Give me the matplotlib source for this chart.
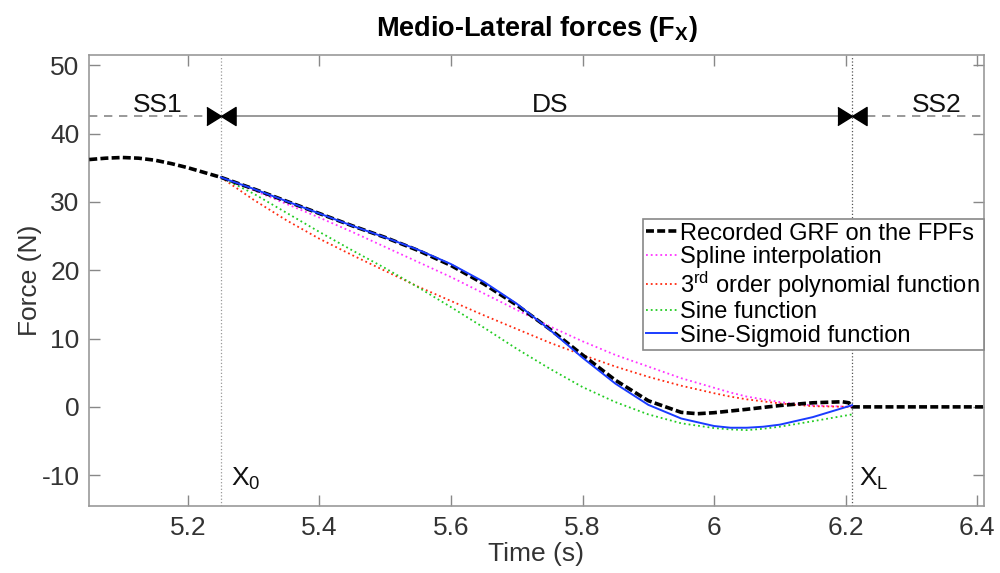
import numpy as np
import matplotlib.pyplot as plt

plt.rcParams['font.family'] = ['Liberation Sans', 'DejaVu Sans']
plt.rcParams['mathtext.default'] = 'regular'
plt.rcParams['axes.unicode_minus'] = False

# Boundaries of the phases (s)
x0 = 5.25
xl = 6.21
phase_level = 42.6

# Recorded GRF (whole window)
t_rec = [5.05, 5.075, 5.10, 5.125, 5.15, 5.175, 5.20, 5.225, 5.25, 5.30, 5.35,
         5.40, 5.45, 5.50, 5.55, 5.60, 5.65, 5.70, 5.75, 5.80, 5.85, 5.90,
         5.95, 5.975, 6.00, 6.05, 6.10, 6.15, 6.195, 6.205, 6.21, 6.30, 6.41]
f_rec = [36.2, 36.4, 36.5, 36.4, 36.1, 35.6, 35.0, 34.3, 33.6, 31.9, 30.1,
         28.3, 26.5, 24.8, 22.9, 20.7, 18.0, 14.9, 11.4, 7.6, 3.9, 0.9,
         -0.8, -1.0, -0.85, -0.35, 0.2, 0.6, 0.75, 0.6, 0.0, 0.0, 0.0]

# Estimated curves over the double support phase
t_ds = [5.25, 5.30, 5.35, 5.40, 5.45, 5.50, 5.55, 5.60, 5.65, 5.70,
        5.75, 5.80, 5.85, 5.90, 5.95, 6.00, 6.025, 6.05, 6.075, 6.10, 6.15, 6.21]
f_spline = [33.6, 31.7, 29.7, 27.7, 25.6, 23.4, 21.2, 19.0, 16.6, 14.2,
            11.8, 9.6, 7.6, 5.9, 4.2, 2.8, 2.1, 1.5, 1.1, 0.7, 0.2, 0.0]
f_poly = [33.6, 30.3, 27.3, 24.6, 22.2, 19.9, 17.6, 15.5, 13.4, 11.4,
          9.4, 7.6, 5.9, 4.4, 3.1, 2.0, 1.5, 1.1, 0.8, 0.5, 0.1, 0.0]
f_sine = [33.6, 31.2, 28.4, 25.6, 22.9, 20.3, 17.5, 14.6, 11.6, 8.5,
          5.6, 2.9, 0.7, -1.1, -2.4, -3.1, -3.3, -3.4, -3.2, -2.9, -2.1, -1.1]
f_sigm = [33.6, 31.9, 30.1, 28.3, 26.5, 24.8, 23.0, 20.9, 18.3, 15.1,
          11.3, 7.2, 3.4, 0.3, -1.7, -2.8, -3.05, -3.05, -2.9, -2.6, -1.5, 0.25]

fig = plt.figure(figsize=(10, 5.73), dpi=100)
ax = fig.add_axes([0.0893, 0.117, 0.8944, 0.787])

ax.axvline(x0, color='#999999', lw=0.9, ls=':')
ax.axvline(xl, color='#555555', lw=0.9, ls=':')

ax.plot([5.05, x0], [phase_level, phase_level], color='#888888', lw=1.2, ls=(0, (5, 4)))
ax.plot([x0, xl], [phase_level, phase_level], color='#888888', lw=1.2)
ax.plot([xl, 6.41], [phase_level, phase_level], color='#888888', lw=1.2, ls=(0, (5, 4)))
bowtie = [(-1, 0.62), (0, 0), (1, 0.62), (1, -0.62), (0, 0), (-1, -0.62)]
ax.plot([x0, xl], [phase_level, phase_level], ls='none', marker=bowtie,
        markersize=21, color='black', zorder=5)

ax.plot(t_rec, f_rec, color='black', lw=2.6, ls=(0, (2.2, 0.9)),
        label='Recorded GRF on the FPFs', zorder=4)
ax.plot(t_ds, f_spline, color='#ff33ff', lw=1.3, ls=':', label='Spline interpolation')
ax.plot(t_ds, f_poly, color='#ff2a10', lw=1.3, ls=':', label='3$^{rd}$ order polynomial function')
ax.plot(t_ds, f_sine, color='#22cc22', lw=1.3, ls=':', label='Sine function')
ax.plot(t_ds, f_sigm, color='#1a3cff', lw=1.4, ls='-', label='Sine-Sigmoid function', zorder=5)

ax.text(5.154, 43.2, 'SS1', fontsize=19, ha='center', va='baseline', color='#111111')
ax.text(5.75, 43.2, 'DS', fontsize=19, ha='center', va='baseline', color='#111111')
ax.text(6.338, 43.2, 'SS2', fontsize=19, ha='center', va='baseline', color='#111111')
ax.text(5.265, -11.5, 'X$_0$', fontsize=19, ha='left', va='baseline', color='#111111')
ax.text(6.221, -11.5, 'X$_L$', fontsize=19, ha='left', va='baseline', color='#111111')

ax.set_xlim(5.05, 6.41)
ax.set_ylim(-14.5, 51.5)
ax.set_xticks([5.2, 5.4, 5.6, 5.8, 6.0, 6.2, 6.4])
ax.set_xticklabels(['5.2', '5.4', '5.6', '5.8', '6', '6.2', '6.4'])
ax.set_yticks([-10, 0, 10, 20, 30, 40, 50])
ax.tick_params(direction='in', top=True, right=True, length=8, width=1,
               color='#888888', labelcolor='#333333', labelsize=19, pad=7)
for s in ax.spines.values():
    s.set_color('#999999')
    s.set_linewidth(1.2)

ax.set_xlabel('Time (s)', fontsize=19, color='#333333', labelpad=2)
ax.set_ylabel('Force (N)', fontsize=19, color='#333333', labelpad=0)
ax.set_title('Medio-Lateral forces (F$_X$)', fontsize=19.5, fontweight='bold', pad=14)

leg = ax.legend(loc='upper right', bbox_to_anchor=(1.0, 0.636), borderaxespad=0,
                fontsize=17, handlelength=1.3, handletextpad=0.15, labelspacing=0.06,
                borderpad=0.15, fancybox=False, framealpha=1)
leg.get_frame().set_edgecolor('#888888')
leg.get_frame().set_linewidth(1.2)

fig.savefig('out.png', dpi=100)
